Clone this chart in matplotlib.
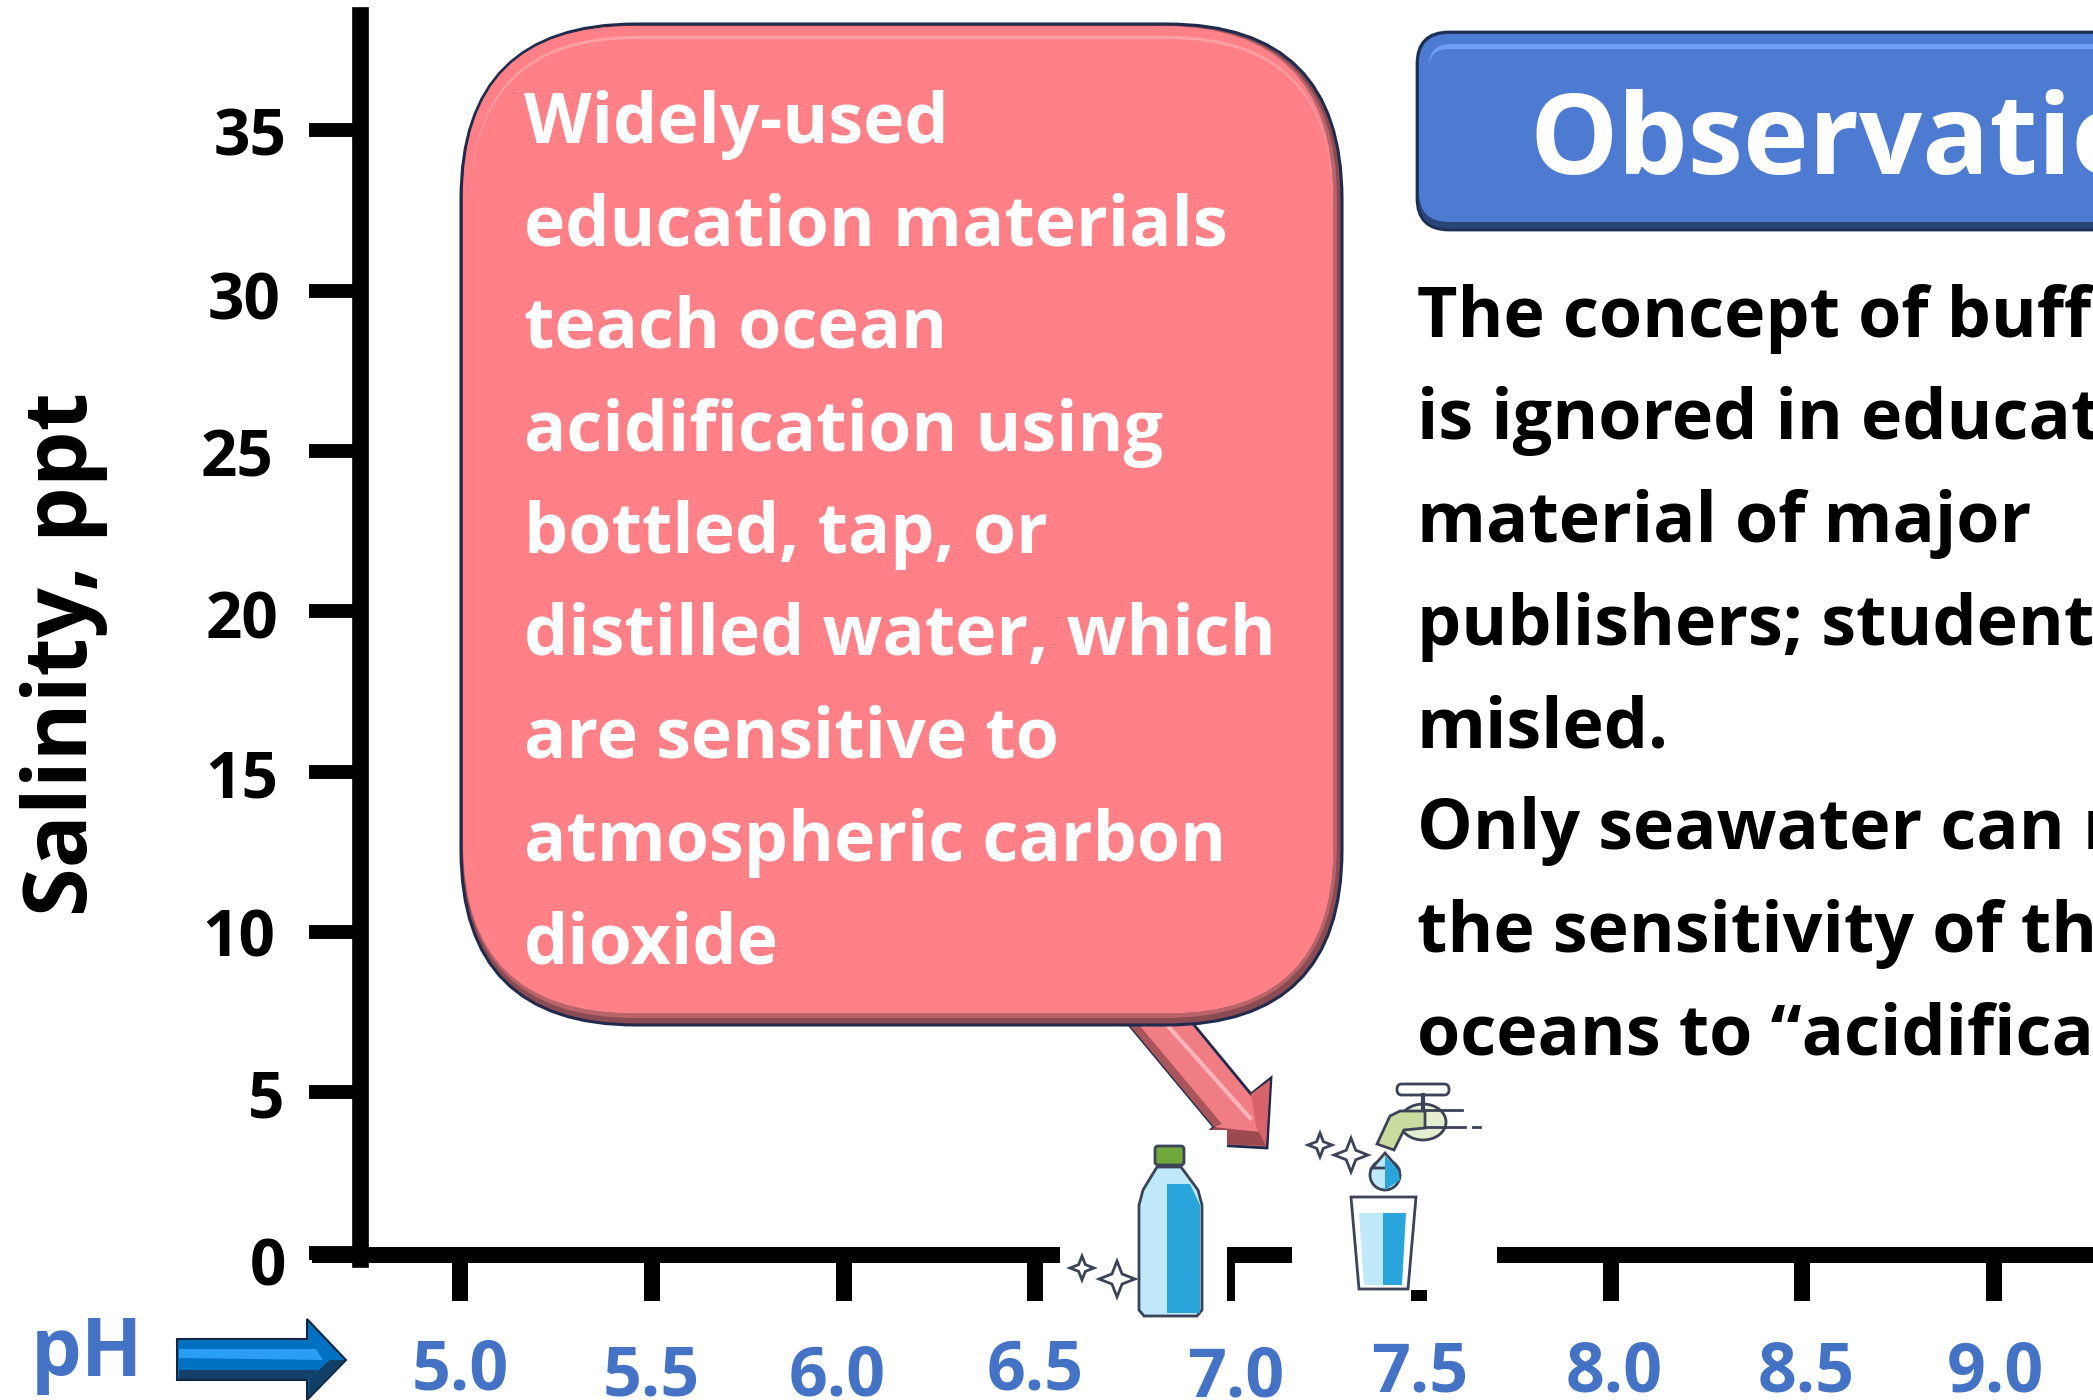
import matplotlib
matplotlib.use('Agg')
import matplotlib.pyplot as plt
from matplotlib.patches import FancyBboxPatch, Polygon, Rectangle, Ellipse
from matplotlib.transforms import ScaledTranslation

# 数据
ph_ticks = [5.0, 5.5, 6.0, 6.5, 7.0, 7.5, 8.0, 8.5, 9.0]
ph_labels = ['5.0', '5.5', '6.0', '6.5', '7.0', '7.5', '8.0', '8.5', '9.0']
salinity_ticks = [0, 5, 10, 15, 20, 25, 30, 35]
salinity_labels = ['0', '5', '10', '15', '20', '25', '30', '35']
callout_lines = ['Widely-used', 'education materials', 'teach ocean', 'acidification using',
                 'bottled, tap, or', 'distilled water, which', 'are sensitive to',
                 'atmospheric carbon', 'dioxide']
obs_lines = ['The concept of buffering', 'is ignored in education', 'material of major',
             'publishers; students are', 'misled.', 'Only seawater can reveal',
             'the sensitivity of the', 'oceans to \u201cacidification\u201d']

W, H = 2093, 1400
FONT = 'Open Sans'
PH_BLUE = '#4472C4'
NAVY = '#1f2a4d'
INK = '#3c4258'
plt.rcParams['font.family'] = [FONT, 'DejaVu Sans']
plt.rcParams['font.weight'] = 'bold'

fig = plt.figure(figsize=(W / 100, H / 100), dpi=100, facecolor='white')

# 坐标轴：pH 5.0 在 x=460px，每单位 383.5px；盐度 0 在 y=1252.5px，每单位 32.06px
ax = fig.add_axes([0, 0, 1, 1])
ax.set_xlim(5 - 460 / 383.5, 5 + (W - 460) / 383.5)
ax.set_ylim((1252.5 - H) / 32.06, 1252.5 / 32.06)
for s in ['top', 'right']:
    ax.spines[s].set_visible(False)
ax.spines['bottom'].set_position(('data', -0.08))
ax.spines['left'].set_position(('data', 5 + (360 - 460) / 383.5))
ax.spines['bottom'].set_linewidth(11.5)
ax.spines['left'].set_linewidth(12)
ax.spines['bottom'].set_bounds(5 + (320 - 460) / 383.5, ax.get_xlim()[1])
ax.spines['left'].set_bounds(-0.2, 38.6)
ax.set_xticks(ph_ticks)
ax.set_xticklabels(ph_labels, fontsize=49, color=PH_BLUE, fontweight='bold')
ax.set_yticks(salinity_ticks)
ax.set_yticklabels(salinity_labels, fontsize=46, color='black', fontweight='bold')
ax.tick_params(axis='x', length=33, width=11.5, pad=29)
ax.tick_params(axis='y', length=37, width=10, pad=14)

# 标签位置是手工摆的，不太整齐
x_nudge = [(0, 4), (-1, -2), (-6, -2), (0, 4), (9, -3), (1, 2), (4, 2), (4, 2), (1, 2)]
y_nudge = [(-3, -8), (-5, -1), (-14, 0), (-11, -1), (-11, -3), (-16, -1), (-9, -4), (-3, -1)]
for lab, (dx, dy) in zip(ax.get_xticklabels(), x_nudge):
    lab.set_transform(lab.get_transform() + ScaledTranslation(dx / 100, dy / 100, fig.dpi_scale_trans))
for lab, (dx, dy) in zip(ax.get_yticklabels(), y_nudge):
    lab.set_transform(lab.get_transform() + ScaledTranslation(dx / 100, dy / 100, fig.dpi_scale_trans))

# 装饰层用像素坐标
deco = fig.add_axes([0, 0, 1, 1], facecolor='none')
deco.set_xlim(0, W)
deco.set_ylim(H, 0)
deco.axis('off')


def round_box(x0, y0, x1, y1, r, color, edge='none', lw=0, z=2):
    p = FancyBboxPatch((x0, y0), x1 - x0, y1 - y0, boxstyle='round,pad=0,rounding_size=%d' % r,
                       fc=color, ec=edge, lw=lw, zorder=z)
    deco.add_patch(p)


def sparkle(cx, cy, r):
    pts = [(cx, cy - r), (cx + r * 0.28, cy - r * 0.28), (cx + r, cy), (cx + r * 0.28, cy + r * 0.28),
           (cx, cy + r), (cx - r * 0.28, cy + r * 0.28), (cx - r, cy), (cx - r * 0.28, cy - r * 0.28)]
    deco.add_patch(Polygon(pts, closed=True, fc='white', ec=INK, lw=2, zorder=8))


# 红色箭头
arrow = [(1125, 1020), (1190, 1020), (1251, 1094), (1271, 1078), (1267, 1148), (1196, 1144), (1214, 1127)]
deco.add_patch(Polygon(arrow, closed=True, fc='#F07D84', ec=NAVY, lw=2, zorder=3))
deco.add_patch(Polygon([(1125, 1020), (1135, 1020), (1222, 1124), (1214, 1127)], fc='#A8555B', zorder=3))
deco.add_patch(Polygon([(1214, 1127), (1240, 1130), (1262, 1132), (1266, 1146), (1198, 1143)], fc='#9C4A50', zorder=3))
deco.add_patch(Polygon([(1251, 1094), (1270, 1080), (1266, 1146), (1256, 1126)], fc='#D9636B', zorder=3))
deco.plot([1168, 1250], [1026, 1118], color='#FFB5BA', lw=3, zorder=3)

# 红色圆角框（带斜面）
bx0, by0, bx1, by1 = 461, 24, 1342, 1025
round_box(bx0, by0, bx1, by1, 175, '#8A4C52', NAVY, 2.2, z=4)
round_box(bx0 + 2, by0 + 2, bx1 - 5, by1 - 7, 172, '#B9646B', z=4)
round_box(bx0 + 2, by0 + 2, bx1 - 9, by1 - 12, 170, '#FF8087', z=4)
round_box(bx0 + 10, by0 + 12, bx1 - 9, by1 - 12, 165, '#FFA0A6', z=4)
round_box(bx0 + 10, by0 + 15, bx1 - 9, by1 - 12, 165, '#FF8087', z=4)
for i, line in enumerate(callout_lines):
    deco.text(524, 143 + i * 102.5, line, color='white', fontsize=50.4, va='baseline', ha='left', zorder=5)

# 蓝色标题框
round_box(1417, 32, 2400, 230, 32, '#2B4476', '#1b2f55', 2, z=4)
round_box(1419, 34, 2400, 222, 30, '#4E7BD2', z=4)
round_box(1429, 44, 2400, 218, 22, '#6F9EF5', z=4)
round_box(1429, 49, 2400, 218, 20, '#4E7BD2', z=4)
deco.text(1529, 174, 'Observations', color='white', fontsize=80, va='baseline', ha='left', zorder=5)

for i, line in enumerate(obs_lines):
    deco.text(1417, 337 + i * 102.5, line, color='black', fontsize=50.4, va='baseline', ha='left', zorder=5)

# 坐标轴名称
deco.text(64, 654, 'Salinity, ppt', rotation=90, color='black', fontsize=63.5, ha='center', va='center', zorder=5)
deco.text(87, 1355, 'pH', color=PH_BLUE, fontsize=58, ha='center', va='center', zorder=5)

# 蓝色箭头
deco.add_patch(Polygon([(177, 1339), (307, 1339), (307, 1319), (346, 1360), (307, 1400), (307, 1380), (177, 1380)],
                       fc='#0070C0', ec='#10253f', lw=1.5, zorder=3))
deco.add_patch(Polygon([(179, 1349), (316, 1349), (323, 1360), (179, 1358)], fc='#2A9DF4', zorder=3))
deco.add_patch(Polygon([(179, 1370), (318, 1370), (309, 1379), (179, 1379)], fc='#123F66', zorder=3))
deco.add_patch(Polygon([(330, 1360), (345, 1360), (308, 1398), (309, 1379)], fc='#123F66', zorder=3))

# 瓶子图片（白底盖住坐标轴）
deco.add_patch(Rectangle((1060, 1130), 167, 190, fc='white', ec='none', zorder=6))
deco.add_patch(Polygon([(1157, 1167), (1181, 1167), (1198, 1190), (1202, 1205), (1202, 1310), (1197, 1316),
                        (1144, 1316), (1139, 1310), (1139, 1205), (1143, 1190)],
                       fc='#BFE9F8', ec=INK, lw=2, zorder=7))
deco.add_patch(Polygon([(1167, 1184), (1190, 1184), (1200, 1205), (1200, 1313), (1167, 1313)], fc='#2AA5DC', zorder=8))
deco.add_patch(FancyBboxPatch((1155, 1146), 29, 19, boxstyle='round,pad=0,rounding_size=3',
                              fc='#6FA83C', ec=INK, lw=2, zorder=8))
sparkle(1082, 1268, 12)
sparkle(1117, 1279, 18)

# 水龙头和水杯图片
deco.add_patch(FancyBboxPatch((1292, 1077), 205, 213, boxstyle='round,pad=0,rounding_size=55',
                              fc='white', ec='none', zorder=6))
deco.add_patch(Rectangle((1292, 1240), 205, 50, fc='white', ec='none', zorder=6))
deco.add_patch(Polygon([(1351, 1197), (1416, 1197), (1408, 1289), (1359, 1289)], fc='white', ec=INK, lw=2, zorder=7))
deco.add_patch(Polygon([(1359, 1213), (1383, 1213), (1383, 1285), (1364, 1285)], fc='#BFE9F8', zorder=8))
deco.add_patch(Polygon([(1383, 1213), (1406, 1213), (1402, 1285), (1383, 1285)], fc='#2AA5DC', zorder=8))
deco.add_patch(Ellipse((1385, 1175), 30, 30, fc='#BFE9F8', ec=INK, lw=2, zorder=8))
deco.add_patch(Polygon([(1372, 1168), (1385, 1153), (1398, 1168)], fc='#BFE9F8', ec=INK, lw=2, zorder=8))
deco.add_patch(Polygon([(1385, 1156), (1398, 1170), (1400, 1180), (1385, 1190)], fc='#2AA5DC', zorder=9))
deco.add_patch(Ellipse((1423, 1122), 46, 36, fc='#E6EED0', ec=INK, lw=2, zorder=7))
deco.add_patch(Polygon([(1377, 1144), (1394, 1150), (1404, 1130), (1425, 1128), (1425, 1111), (1400, 1111), (1390, 1116)],
                       fc='#C9DB9E', ec=INK, lw=2, zorder=8))
deco.plot([1423, 1462], [1110, 1110], color=INK, lw=2, zorder=8)
deco.plot([1425, 1465], [1127, 1127], color=INK, lw=2, zorder=8)
deco.plot([1473, 1480], [1127, 1127], color=INK, lw=2, zorder=8)
deco.add_patch(FancyBboxPatch((1397, 1084), 52, 11, boxstyle='round,pad=0,rounding_size=5',
                              fc='white', ec=INK, lw=2, zorder=8))
deco.plot([1423, 1423], [1095, 1108], color=INK, lw=3, zorder=8)
sparkle(1320, 1145, 12)
sparkle(1351, 1155, 17)

fig.savefig('out.png', dpi=100, facecolor='white')
